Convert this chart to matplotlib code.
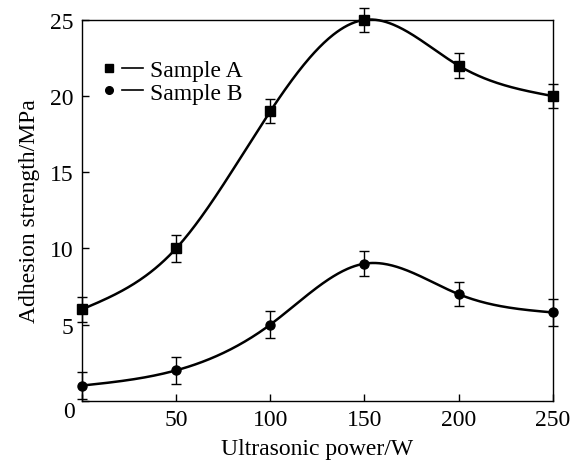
import numpy as np
import matplotlib
matplotlib.use("Agg")
import matplotlib.pyplot as plt
from matplotlib.lines import Line2D
from matplotlib.legend_handler import HandlerTuple

power = [0, 50, 100, 150, 200, 250]
sample_a = [6.0, 10.0, 19.0, 25.0, 22.0, 20.0]
err_a = [0.8, 0.9, 0.8, 0.8, 0.8, 0.8]
sample_b = [1.0, 2.0, 5.0, 9.0, 7.0, 5.8]
err_b = [0.9, 0.9, 0.9, 0.8, 0.8, 0.9]


def natural_spline(x, y, xs):
    # natural cubic spline through the measured points
    x = np.asarray(x, float)
    y = np.asarray(y, float)
    n = len(x)
    h = np.diff(x)
    A = np.zeros((n, n))
    r = np.zeros(n)
    A[0, 0] = A[-1, -1] = 1
    for i in range(1, n - 1):
        A[i, i - 1] = h[i - 1]
        A[i, i] = 2 * (h[i - 1] + h[i])
        A[i, i + 1] = h[i]
        r[i] = 6 * ((y[i + 1] - y[i]) / h[i] - (y[i] - y[i - 1]) / h[i - 1])
    m = np.linalg.solve(A, r)
    idx = np.clip(np.searchsorted(x, xs) - 1, 0, n - 2)
    t = xs - x[idx]
    hi = h[idx]
    a = (m[idx + 1] - m[idx]) / (6 * hi)
    b = m[idx] / 2
    c = (y[idx + 1] - y[idx]) / hi - hi * (2 * m[idx] + m[idx + 1]) / 6
    return y[idx] + c * t + b * t ** 2 + a * t ** 3


plt.rcParams["font.family"] = "Liberation Serif"
plt.rcParams["font.size"] = 17

fig = plt.figure(figsize=(5.77, 4.64), dpi=100)
ax = fig.add_axes([0.142, 0.134, 0.816, 0.821])

xs = np.linspace(0, 250, 400)
for ys, es, mk in [(sample_a, err_a, "s"), (sample_b, err_b, "o")]:
    ax.plot(xs, natural_spline(power, ys, xs), color="black", lw=1.8, clip_on=False)
    ax.errorbar(power, ys, yerr=es, fmt=mk, color="black", ms=6.5,
                elinewidth=1.0, capsize=3.5, capthick=1.0, clip_on=False)

ax.set_xlim(0, 250)
ax.set_ylim(0, 25)
ax.set_xticks([0, 50, 100, 150, 200, 250])
ax.set_xticklabels(["", "50", "100", "150", "200", "250"])
ax.set_yticks([0, 5, 10, 15, 20, 25])
ax.set_yticklabels(["", "5", "10", "15", "20", "25"])
ax.tick_params(direction="in", length=5, width=1, top=False, right=False, pad=6)
ax.annotate("0", xy=(0, 0), xytext=(-9, -8), textcoords="offset points",
            ha="center", va="center", fontsize=17)
for s in ax.spines.values():
    s.set_linewidth(1.0)

ax.set_xlabel("Ultrasonic power/W", labelpad=6)
ax.set_ylabel("Adhesion strength/MPa", labelpad=7)

ha = (Line2D([], [], marker="s", ls="none", color="black", ms=5.5),
      Line2D([], [], color="black", lw=1.2))
hb = (Line2D([], [], marker="o", ls="none", color="black", ms=5.5),
      Line2D([], [], color="black", lw=1.2))
ax.legend([ha, hb], ["Sample A", "Sample B"], loc="upper left",
          bbox_to_anchor=(0.0, 0.94), frameon=False, fontsize=17,
          handler_map={tuple: HandlerTuple(ndivide=None, pad=0.1)},
          handlelength=1.9, handletextpad=0.3, labelspacing=0.05, borderpad=0.2)

fig.savefig("out.png", dpi=100)
